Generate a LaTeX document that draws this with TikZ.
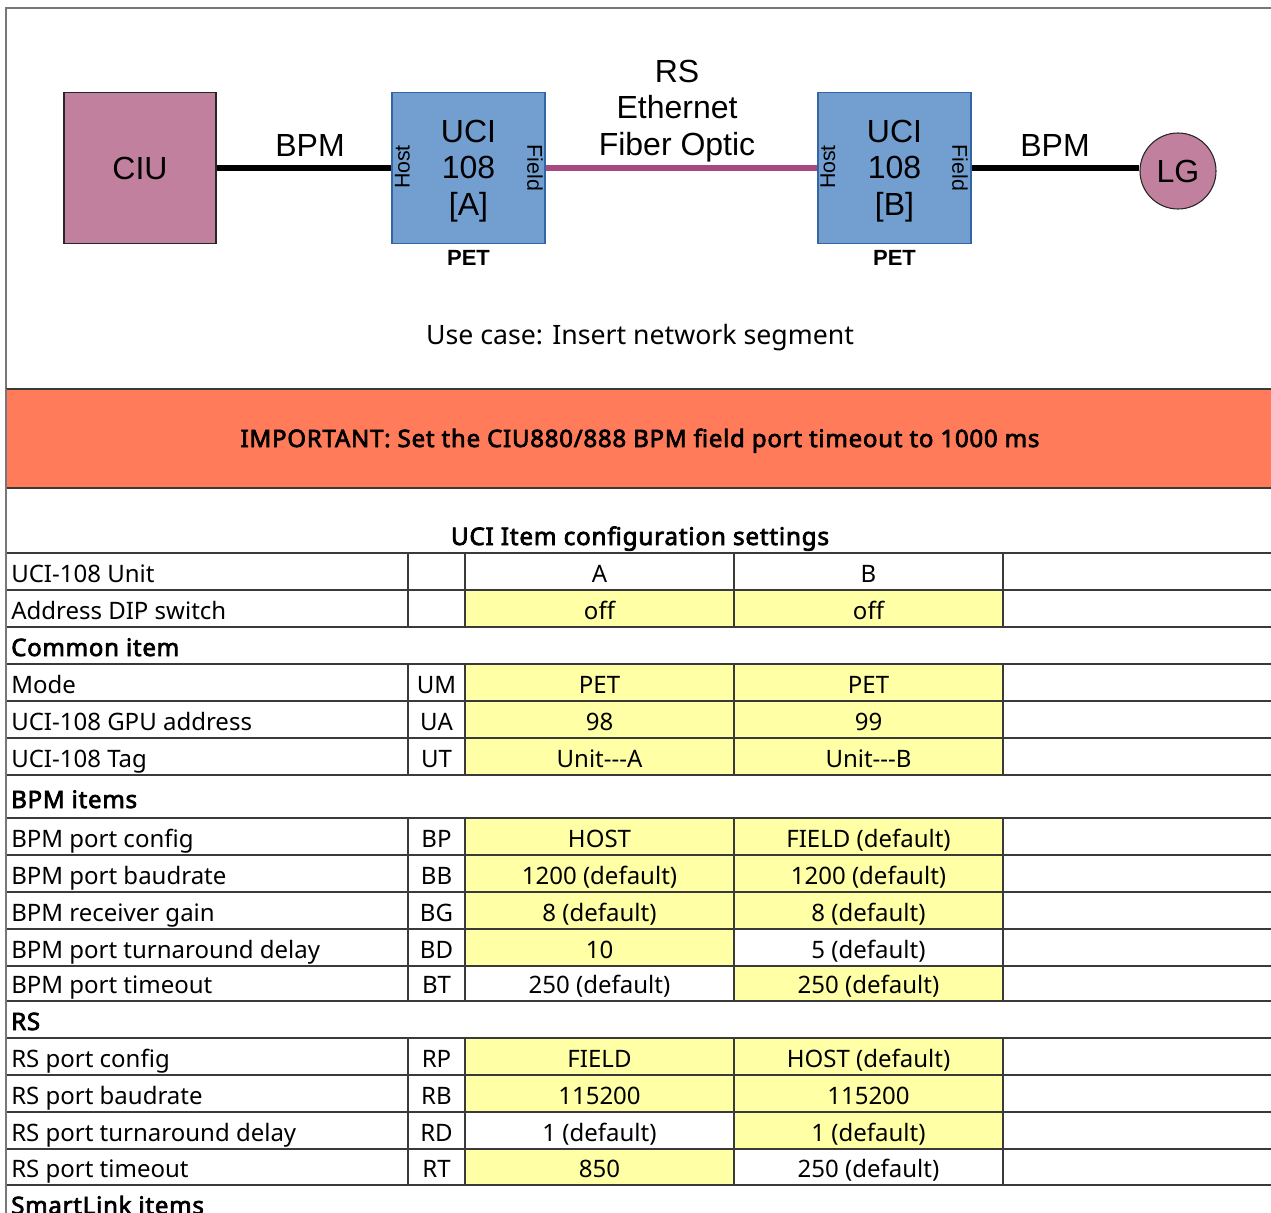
\documentclass[tikz,border=0pt]{standalone}
\usepackage{fontspec}
\setmainfont{Noto Sans}
\newfontfamily\tbold{Noto Sans}[FakeBold=3,LetterSpace=3.2]
\newfontfamily\arial{Liberation Sans}
\definecolor{mauve}{HTML}{C1809E}
\definecolor{ucifill}{HTML}{729FCF}
\definecolor{uciborder}{HTML}{3465A4}
\definecolor{rsline}{HTML}{A5497F}
\definecolor{warn}{HTML}{FF7B59}
\definecolor{cellyellow}{HTML}{FFFFA6}
\definecolor{gridline}{HTML}{3A3A3A}
\definecolor{framegray}{HTML}{777777}
\newcommand\tfont{\fontsize{18}{22}\selectfont}
\newcommand\bfont{\tbold\fontsize{18}{22}\selectfont}
\newcommand\hyph{-\kern0pt-\kern0pt-}
% data row: #1 top, #2 bottom, #3 label, #4 code, #5 A, #6 B, #7 fill A, #8 fill B
\newcommand\trow[8]{%
  \fill[#7] (465,#1) rectangle (734,#2);
  \fill[#8] (734,#1) rectangle (1003,#2);
  \foreach \vx in {408,465,734,1003} \draw[grid] (\vx,#1) -- (\vx,#2);
  \node[tl, anchor=base west] at (11,{#2-8}) {#3};
  \node[tl, anchor=base] at (436.5,{#2-8}) {#4};
  \node[tl, anchor=base] at (599.5,{#2-8}) {#5};
  \node[tl, anchor=base] at (868.5,{#2-8}) {#6};
}
\newcommand\srow[2]{%
  \node[tl, font=\bfont, anchor=base west] at (11,{#2-8}) {#1};
}
\begin{document}
\begin{tikzpicture}[x=0.75pt,y=-0.75pt,
  grid/.style={draw=gridline, line width=0.9pt},
  tl/.style={font=\tfont, inner sep=0pt},
  wht/.style={fill=white},
  ylw/.style={fill=cellyellow},
  dtext/.style={font=\arial\fontsize{24}{27.4}\selectfont, inner sep=0pt},
  ucibox/.style={draw=uciborder, fill=ucifill, line width=0.8pt, minimum width=153*0.75pt, minimum height=151*0.75pt, inner sep=0pt},
  port/.style={font=\arial\fontsize{16}{18}\selectfont, inner sep=0pt},
  petlbl/.style={font=\arial\bfseries\fontsize{16.5}{18}\selectfont, inner sep=0pt},
  bpmline/.style={line width=4.6pt, draw=black},
  rslink/.style={line width=4.6pt, draw=rsline},
]
\useasboundingbox (0,0) rectangle (1271,1213);
\fill[white] (0,0) rectangle (1271,1213);

% ---------- diagram ----------
\node[draw=black!85, line width=0.8pt, fill=mauve, minimum width=152*0.75pt, minimum height=151*0.75pt, inner sep=0pt, font=\arial\fontsize{24}{28}\selectfont] (ciu) at (140,168) {CIU};
\node[ucibox] (ucia) at (468.5,168) {};
\node[ucibox] (ucib) at (894.5,168) {};
\node[dtext, align=center] (ucialbl) at (468.5,171) {UCI\\108\\{[A]}};
\node[dtext, align=center] (uciblbl) at (894.5,171) {UCI\\108\\{[B]}};
\node[draw=black!85, line width=0.8pt, fill=mauve, circle, minimum size=76*0.75pt, inner sep=0pt, font=\arial\fontsize{24}{28}\selectfont] (lg) at (1178,171) {LG};

\draw[bpmline] (ciu.east) -- (ucia.west);
\draw[rslink] (ucia.east) -- (ucib.west);
\draw[bpmline] (ucib.east) -- (ucib.east -| lg.west);

\node[port, rotate=90] (hosta) at (402.5,167) {Host};
\node[port, rotate=-90] (fielda) at (535,168) {Field};
\node[port, rotate=90] (hostb) at (828,167) {Host};
\node[port, rotate=-90] (fieldb) at (960,168) {Field};
\node[petlbl] (peta) at (468.5,258) {PET};
\node[petlbl] (petb) at (894.5,258) {PET};

\node[dtext] (bpml) at (310,145) {BPM};
\node[dtext] (bpmr) at (1055,145) {BPM};
\node[dtext, align=center] (rslbl) at (677,111) {RS\\Ethernet\\Fiber Optic};

\node[font=\fontsize{20}{24}\selectfont, inner sep=0pt, anchor=base] (usecase) at (640,344) {Use case: Insert network segment};

% ---------- frame ----------
\draw[framegray, line width=1.4pt] (6,1213) -- (6,8) -- (1271,8);

% ---------- warning band ----------
\fill[warn] (6,389) rectangle (1271,488);
\draw[grid] (6,389) -- (1271,389);
\draw[grid] (6,488) -- (1271,488);
\node[font=\bfont, inner sep=0pt, anchor=base] (warntext) at (640,447) {IMPORTANT: Set the CIU880/888 BPM field port timeout to 1000 ms};

% ---------- table ----------
\node[font=\tbold\fontsize{18.2}{22}\selectfont, inner sep=0pt, anchor=base] (ttitle) at (640,545) {UCI Item configuration settings};

\trow{553}{590}{UCI-108 Unit}{}{A}{B}{wht}{wht}
\trow{590}{627}{Address DIP switch}{}{off}{off}{ylw}{ylw}
\srow{Common item}{664}
\trow{664}{701}{Mode}{UM}{PET}{PET}{ylw}{ylw}
\trow{701}{738}{UCI-108 GPU address}{UA}{98}{99}{ylw}{ylw}
\trow{738}{775}{UCI-108 Tag}{UT}{Unit\hyph A}{Unit\hyph B}{ylw}{ylw}
\srow{BPM items}{816}
\trow{818}{855}{BPM port config}{BP}{HOST}{FIELD (default)}{ylw}{ylw}
\trow{855}{892}{BPM port baudrate}{BB}{1200 (default)}{1200 (default)}{ylw}{ylw}
\trow{892}{929}{BPM receiver gain}{BG}{8 (default)}{8 (default)}{ylw}{ylw}
\trow{929}{966}{BPM port turnaround delay}{BD}{10}{5 (default)}{ylw}{wht}
\trow{966}{1001}{BPM port timeout}{BT}{250 (default)}{250 (default)}{wht}{ylw}
\srow{RS}{1038}
\trow{1038}{1075}{RS port config}{RP}{FIELD}{HOST (default)}{ylw}{ylw}
\trow{1075}{1112}{RS port baudrate}{RB}{115200}{115200}{ylw}{ylw}
\trow{1112}{1149}{RS port turnaround delay}{RD}{1 (default)}{1 (default)}{wht}{ylw}
\trow{1149}{1185}{RS port timeout}{RT}{850}{250 (default)}{ylw}{wht}
\srow{SmartLink items}{1222}

\foreach \hy in {553,590,627,664,701,738,775,818,855,892,929,966,1001,1038,1075,1112,1149,1185}
  \draw[grid] (6,\hy) -- (1271,\hy);
\draw[framegray, line width=1.4pt] (6,389) -- (6,1213);
\end{tikzpicture}
\end{document}
